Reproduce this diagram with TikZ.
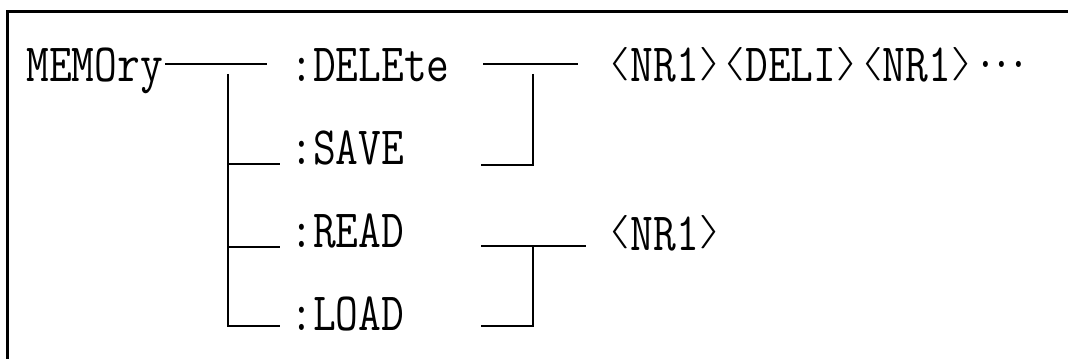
\documentclass[tikz,border=0pt]{standalone}
\usepackage{tikz}
\usepackage{graphicx}
\usetikzlibrary{calc}
\usetikzlibrary{positioning}
\newcommand{\tall}[1]{\scalebox{1}[1.22]{#1}}
\newcommand{\lang}{\makebox[0.525em]{\raisebox{3.8pt}{\scalebox{1.5}[0.66]{$\langle$}}}}
\newcommand{\rang}{\makebox[0.525em]{\raisebox{3.8pt}{\scalebox{1.5}[0.66]{$\rangle$}}}}
\newcommand{\ellip}{\raisebox{0.27em}{.\kern-0.14em.\kern-0.14em.}}

\begin{document}
\begin{tikzpicture}[x=0.5pt, y=-0.5pt,
    cmd/.style={anchor=base west, inner sep=0pt, font=\fontsize{22.1}{26}\selectfont\ttfamily},
    wire/.style={line width=1pt}]
      \useasboundingbox (0,0) rectangle (1068,358);
      \clip (0,0) rectangle (1068,358);
      \draw[line width=1.5pt] (7,12) rectangle (1090,380);
      \node[cmd] (m0) at (26,82) {\tall{MEMOry}};
      \node[cmd, xshift=132pt] (c1) at (m0.base west) {\tall{:DELEte}};
      \node[cmd, yshift=-41pt] (c2) at (c1.base west) {\tall{:SAVE}};
      \node[cmd, yshift=-41.5pt] (c3) at (c2.base west) {\tall{:READ}};
      \node[cmd, yshift=-41.5pt] (c4) at (c3.base west) {\tall{:LOAD}};
      \node[cmd, xshift=158.5pt] (p1) at (c1.base west) {\tall{\lang NR1\rang\lang DELI\rang\lang NR1\rang\ellip}};
      \node[cmd, xshift=158.5pt, yshift=-1.5pt] (p2) at (c3.base west) {\tall{\lang NR1\rang}};
      \draw[wire] ($(m0.base east)+(2,-18)$) -- ($(c1.base west)+(-23,-18)$);
      \draw[wire] ($(c1.base west)+(-62,-8)$) |- ($(c4.base west)+(-10,-4)$);
      \draw[wire] ($(c2.base west)+(-62,0)$) -- ($(c2.base west)+(-10,0)$);
      \draw[wire] ($(c3.base west)+(-62,0)$) -- ($(c3.base west)+(-10,0)$);
      \draw[wire] ($(p1.base west)+(-124,-18)$) -- ($(p1.base west)+(-29,-18)$);
      \draw[wire] ($(p1.base west)+(-74,-8)$) |- ($(c2.base west)+(191,1)$);
      \draw[wire] ($(p2.base west)+(-126,-4)$) -- ($(p2.base west)+(-21,-4)$);
      \draw[wire] ($(p2.base west)+(-74,-4)$) |- ($(c4.base west)+(191,-4)$);
    \end{tikzpicture}
\end{document}
